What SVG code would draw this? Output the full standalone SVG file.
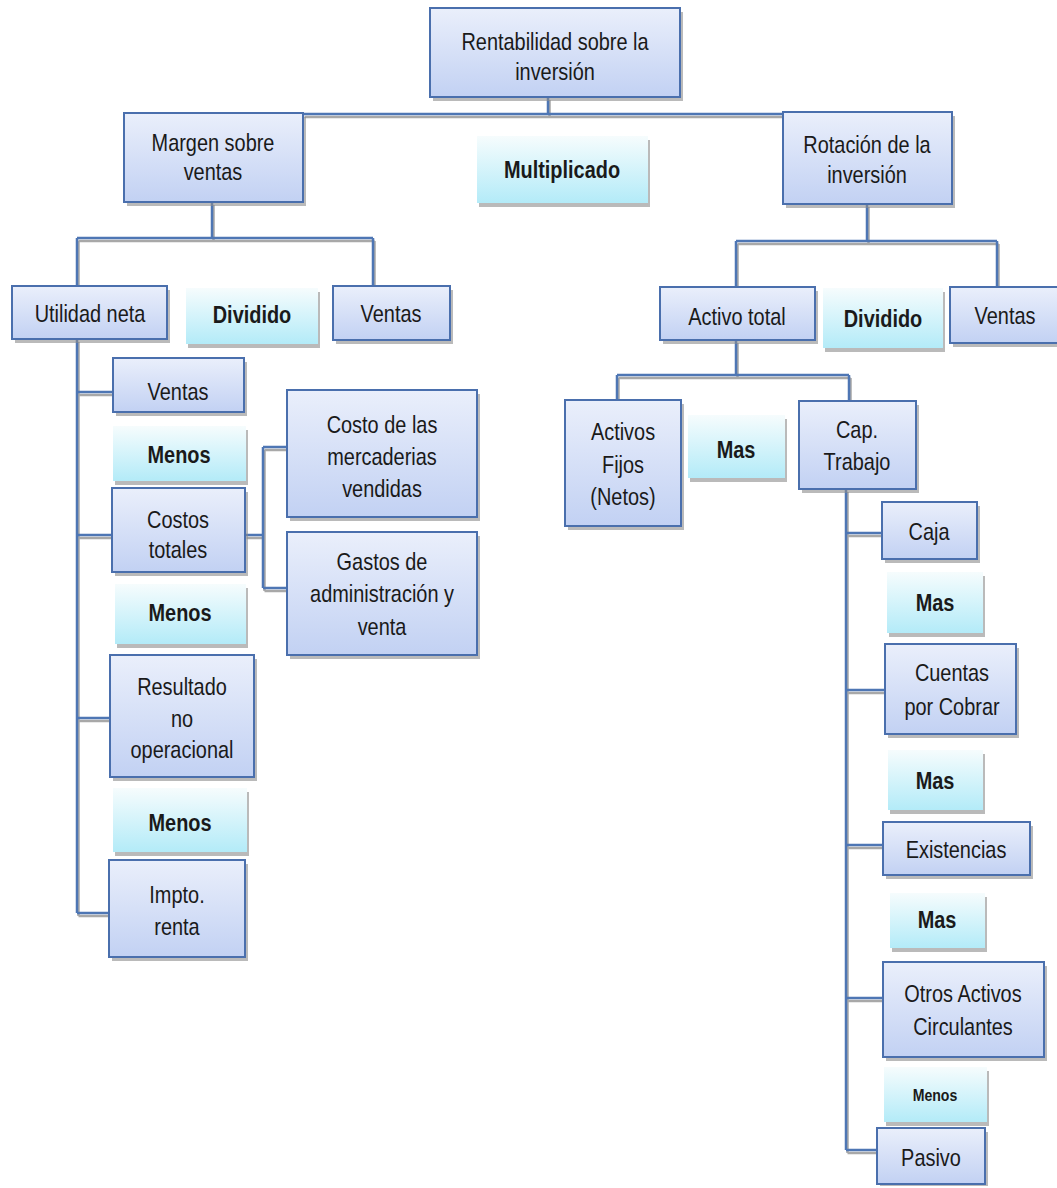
<svg xmlns="http://www.w3.org/2000/svg" width="1057" height="1188" viewBox="0 0 1057 1188">
<defs>
<linearGradient id="nodeFill" x1="0" y1="0" x2="0" y2="1">
<stop offset="0" stop-color="#eaeffb"/>
<stop offset="1" stop-color="#c2d1f3"/>
</linearGradient>
<linearGradient id="opFill" x1="0" y1="0" x2="0" y2="1">
<stop offset="0" stop-color="#f6fcfd"/>
<stop offset="1" stop-color="#b3ebf8"/>
</linearGradient>
<style>
.box{fill:url(#nodeFill);stroke:#4a6fad;stroke-width:2}
.obox{fill:url(#opFill)}
.sh{fill:#8c8c8c;opacity:.6}
.t{font-family:"Liberation Sans",Arial,sans-serif;font-size:24px;fill:#1a1a1a;text-anchor:middle}
.b{font-weight:bold}
.sm{font-size:17px}
.cs{fill:none;stroke:#a8a8a8;stroke-width:2.5}
.cb{fill:none;stroke:#4e76b4;stroke-width:2.5}
</style>
</defs>
<rect width="1057" height="1188" fill="#fff"/>

<g id="connectors">
<g class="cs" transform="translate(1.5 3)">
<path d="M548 97V114M303 114H783"/>
<path d="M212 202V238M77 238H373M77 238V286M373 238V286"/>
<path d="M867 204V241M736 241H997M736 241V287M997 241V287"/>
<path d="M736 340V375M617 375H849M617 375V400M849 375V401"/>
<path d="M846 489V1150M846 533H882M846 690H885M846 845H883M846 998H883M846 1150H877"/>
<path d="M77 339V913M77 392H113M77 535H112M77 718H110M77 913H109"/>
<path d="M245 535H263M263 447V588M263 447H287M263 588H287"/>
</g>
<g class="cb">
<path d="M548 97V114M303 114H783"/>
<path d="M212 202V238M77 238H373M77 238V286M373 238V286"/>
<path d="M867 204V241M736 241H997M736 241V287M997 241V287"/>
<path d="M736 340V375M617 375H849M617 375V400M849 375V401"/>
<path d="M846 489V1150M846 533H882M846 690H885M846 845H883M846 998H883M846 1150H877"/>
<path d="M77 339V913M77 392H113M77 535H112M77 718H110M77 913H109"/>
<path d="M245 535H263M263 447V588M263 447H287M263 588H287"/>
</g>
</g>

<g id="n-rentabilidad"><rect class="sh" x="433" y="12" width="250" height="89"/><rect class="box" x="430" y="8" width="250" height="89"/>
<text class="t" transform="translate(555 0) scale(.83 1)" y="50">Rentabilidad sobre la</text>
<text class="t" transform="translate(555 0) scale(.83 1)" y="80">inversión</text></g>

<g id="n-margen"><rect class="sh" x="127" y="117" width="179" height="89"/><rect class="box" x="124" y="113" width="179" height="89"/>
<text class="t" transform="translate(213 0) scale(.83 1)" y="151">Margen sobre</text>
<text class="t" transform="translate(213 0) scale(.83 1)" y="180">ventas</text></g>

<g id="n-multiplicado"><rect class="sh" x="479" y="140" width="171" height="67"/><rect class="obox" x="477" y="136" width="171" height="67"/>
<text class="t b" transform="translate(562 0) scale(.83 1)" y="178">Multiplicado</text></g>

<g id="n-rotacion"><rect class="sh" x="786" y="116" width="169" height="92"/><rect class="box" x="783" y="112" width="169" height="92"/>
<text class="t" transform="translate(867 0) scale(.83 1)" y="153">Rotación de la</text>
<text class="t" transform="translate(867 0) scale(.83 1)" y="183">inversión</text></g>

<g id="n-utilidad"><rect class="sh" x="15" y="290" width="155" height="53"/><rect class="box" x="12" y="286" width="155" height="53"/>
<text class="t" transform="translate(90 0) scale(.83 1)" y="322">Utilidad neta</text></g>

<g id="n-dividido-l"><rect class="sh" x="188" y="292" width="132" height="56"/><rect class="obox" x="186" y="288" width="132" height="56"/>
<text class="t b" transform="translate(252 0) scale(.83 1)" y="323">Dividido</text></g>

<g id="n-ventas-l"><rect class="sh" x="336" y="290" width="117" height="54"/><rect class="box" x="333" y="286" width="117" height="54"/>
<text class="t" transform="translate(391 0) scale(.83 1)" y="322">Ventas</text></g>

<g id="n-activo-total"><rect class="sh" x="663" y="291" width="155" height="53"/><rect class="box" x="660" y="287" width="155" height="53"/>
<text class="t" transform="translate(737 0) scale(.83 1)" y="325">Activo total</text></g>

<g id="n-dividido-r"><rect class="sh" x="825" y="292" width="120" height="60"/><rect class="obox" x="823" y="288" width="120" height="60"/>
<text class="t b" transform="translate(883 0) scale(.83 1)" y="327">Dividido</text></g>

<g id="n-ventas-r"><rect class="sh" x="953" y="291" width="110" height="56"/><rect class="box" x="950" y="287" width="110" height="56"/>
<text class="t" transform="translate(1005 0) scale(.83 1)" y="324">Ventas</text></g>

<g id="n-activos-fijos"><rect class="sh" x="568" y="404" width="116" height="126"/><rect class="box" x="565" y="400" width="116" height="126"/>
<text class="t" transform="translate(623 0) scale(.83 1)" y="440">Activos</text>
<text class="t" transform="translate(623 0) scale(.83 1)" y="473">Fijos</text>
<text class="t" transform="translate(623 0) scale(.83 1)" y="505">(Netos)</text></g>

<g id="n-mas-1"><rect class="sh" x="690" y="419" width="97" height="63"/><rect class="obox" x="688" y="415" width="97" height="63"/>
<text class="t b" transform="translate(736 0) scale(.83 1)" y="458">Mas</text></g>

<g id="n-cap-trabajo"><rect class="sh" x="802" y="405" width="117" height="88"/><rect class="box" x="799" y="401" width="117" height="88"/>
<text class="t" transform="translate(857 0) scale(.83 1)" y="438">Cap.</text>
<text class="t" transform="translate(857 0) scale(.83 1)" y="470">Trabajo</text></g>

<g id="n-caja"><rect class="sh" x="885" y="506" width="95" height="57"/><rect class="box" x="882" y="502" width="95" height="57"/>
<text class="t" transform="translate(929 0) scale(.83 1)" y="540">Caja</text></g>

<g id="n-mas-2"><rect class="sh" x="889" y="576" width="96" height="61"/><rect class="obox" x="887" y="572" width="96" height="61"/>
<text class="t b" transform="translate(935 0) scale(.83 1)" y="611">Mas</text></g>

<g id="n-cuentas"><rect class="sh" x="888" y="648" width="131" height="90"/><rect class="box" x="885" y="644" width="131" height="90"/>
<text class="t" transform="translate(952 0) scale(.83 1)" y="681">Cuentas</text>
<text class="t" transform="translate(952 0) scale(.83 1)" y="715">por Cobrar</text></g>

<g id="n-mas-3"><rect class="sh" x="890" y="754" width="95" height="60"/><rect class="obox" x="888" y="750" width="95" height="60"/>
<text class="t b" transform="translate(935 0) scale(.83 1)" y="789">Mas</text></g>

<g id="n-existencias"><rect class="sh" x="886" y="826" width="147" height="53"/><rect class="box" x="883" y="822" width="147" height="53"/>
<text class="t" transform="translate(956 0) scale(.83 1)" y="858">Existencias</text></g>

<g id="n-mas-4"><rect class="sh" x="892" y="897" width="95" height="55"/><rect class="obox" x="890" y="893" width="95" height="55"/>
<text class="t b" transform="translate(937 0) scale(.83 1)" y="928">Mas</text></g>

<g id="n-otros"><rect class="sh" x="886" y="966" width="161" height="95"/><rect class="box" x="883" y="962" width="161" height="95"/>
<text class="t" transform="translate(963 0) scale(.83 1)" y="1002">Otros Activos</text>
<text class="t" transform="translate(963 0) scale(.83 1)" y="1035">Circulantes</text></g>

<g id="n-menos-r"><rect class="sh" x="886" y="1071" width="103" height="55"/><rect class="obox" x="884" y="1067" width="103" height="55"/>
<text class="t b sm" transform="translate(935 0) scale(.83 1)" y="1101">Menos</text></g>

<g id="n-pasivo"><rect class="sh" x="880" y="1132" width="108" height="54"/><rect class="box" x="877" y="1128" width="108" height="56"/>
<text class="t" transform="translate(931 0) scale(.83 1)" y="1166">Pasivo</text></g>

<g id="n-ventas-2"><rect class="sh" x="116" y="362" width="131" height="54"/><rect class="box" x="113" y="358" width="131" height="54"/>
<text class="t" transform="translate(178 0) scale(.83 1)" y="400">Ventas</text></g>

<g id="n-menos-1"><rect class="sh" x="115" y="430" width="133" height="55"/><rect class="obox" x="113" y="426" width="133" height="55"/>
<text class="t b" transform="translate(179 0) scale(.83 1)" y="463">Menos</text></g>

<g id="n-costos"><rect class="sh" x="115" y="492" width="133" height="84"/><rect class="box" x="112" y="488" width="133" height="84"/>
<text class="t" transform="translate(178 0) scale(.83 1)" y="528">Costos</text>
<text class="t" transform="translate(178 0) scale(.83 1)" y="558">totales</text></g>

<g id="n-menos-2"><rect class="sh" x="117" y="588" width="131" height="60"/><rect class="obox" x="115" y="584" width="131" height="60"/>
<text class="t b" transform="translate(180 0) scale(.83 1)" y="621">Menos</text></g>

<g id="n-resultado"><rect class="sh" x="113" y="659" width="144" height="122"/><rect class="box" x="110" y="655" width="144" height="122"/>
<text class="t" transform="translate(182 0) scale(.83 1)" y="695">Resultado</text>
<text class="t" transform="translate(182 0) scale(.83 1)" y="727">no</text>
<text class="t" transform="translate(182 0) scale(.83 1)" y="758">operacional</text></g>

<g id="n-menos-3"><rect class="sh" x="115" y="792" width="134" height="64"/><rect class="obox" x="113" y="788" width="134" height="64"/>
<text class="t b" transform="translate(180 0) scale(.83 1)" y="831">Menos</text></g>

<g id="n-impto"><rect class="sh" x="112" y="864" width="136" height="97"/><rect class="box" x="109" y="860" width="136" height="97"/>
<text class="t" transform="translate(177 0) scale(.83 1)" y="903">Impto.</text>
<text class="t" transform="translate(177 0) scale(.83 1)" y="935">renta</text></g>

<g id="n-costo-mercaderias"><rect class="sh" x="290" y="394" width="190" height="127"/><rect class="box" x="287" y="390" width="190" height="127"/>
<text class="t" transform="translate(382 0) scale(.83 1)" y="433">Costo de las</text>
<text class="t" transform="translate(382 0) scale(.83 1)" y="465">mercaderias</text>
<text class="t" transform="translate(382 0) scale(.83 1)" y="497">vendidas</text></g>

<g id="n-gastos"><rect class="sh" x="290" y="536" width="190" height="123"/><rect class="box" x="287" y="532" width="190" height="123"/>
<text class="t" transform="translate(382 0) scale(.83 1)" y="570">Gastos de</text>
<text class="t" transform="translate(382 0) scale(.83 1)" y="602">administración y</text>
<text class="t" transform="translate(382 0) scale(.83 1)" y="635">venta</text></g>
</svg>
